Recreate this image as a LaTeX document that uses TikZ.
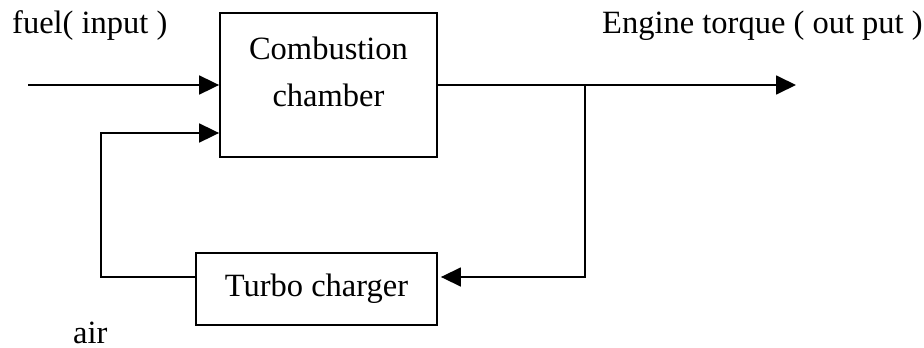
\documentclass[tikz,border=0pt]{standalone}
\usepackage{fontspec}
\setmainfont{Liberation Serif}
\usetikzlibrary{arrows.meta}
\begin{document}
\begin{tikzpicture}[x=1pt,y=-1pt,
  every node/.style={font=\fontsize{32.5}{47}\selectfont},
  block/.style={draw, line width=1.8pt, rectangle, inner sep=0pt},
  label/.style={inner sep=0pt, anchor=base west},
  flow/.style={line width=1.8pt, -{Triangle[length=20pt,width=19pt]}}]
  \useasboundingbox (0,0) rectangle (924,348);

  % blocks
  \node[block, minimum width=217pt, minimum height=144pt] (comb) at (328.5,85) {};
  \node[inner sep=0pt, align=center, anchor=base] (combtext) at (328.5,106) {Combustion\\chamber};
  \node[block, minimum width=241pt, minimum height=72pt] (turbo) at (316.5,289) {Turbo charger};

  % labels
  \node[label] (fuel) at (12,33) {fuel( input )};
  \node[label] (torque) at (602,33) {Engine torque ( out put )};
  \node[label] (air) at (73,343) {air};

  % connector points
  \coordinate (fuelin) at (28,85);
  \coordinate (torqueout) at (796,85);
  \coordinate (tap) at (585,85);
  \coordinate (airbend) at (101,133);

  % fuel in, torque out
  \draw[flow] (fuelin) -- (comb.west);
  \draw[flow] (comb.east) -- (torqueout);

  % feedback through the turbo charger
  \draw[flow, line width=1.5pt] (tap) |- ([xshift=3pt,yshift=12pt]turbo.east);
  \draw[flow] ([yshift=12pt]turbo.west) -| (airbend) -- ([yshift=-48pt]comb.west);
\end{tikzpicture}
\end{document}
